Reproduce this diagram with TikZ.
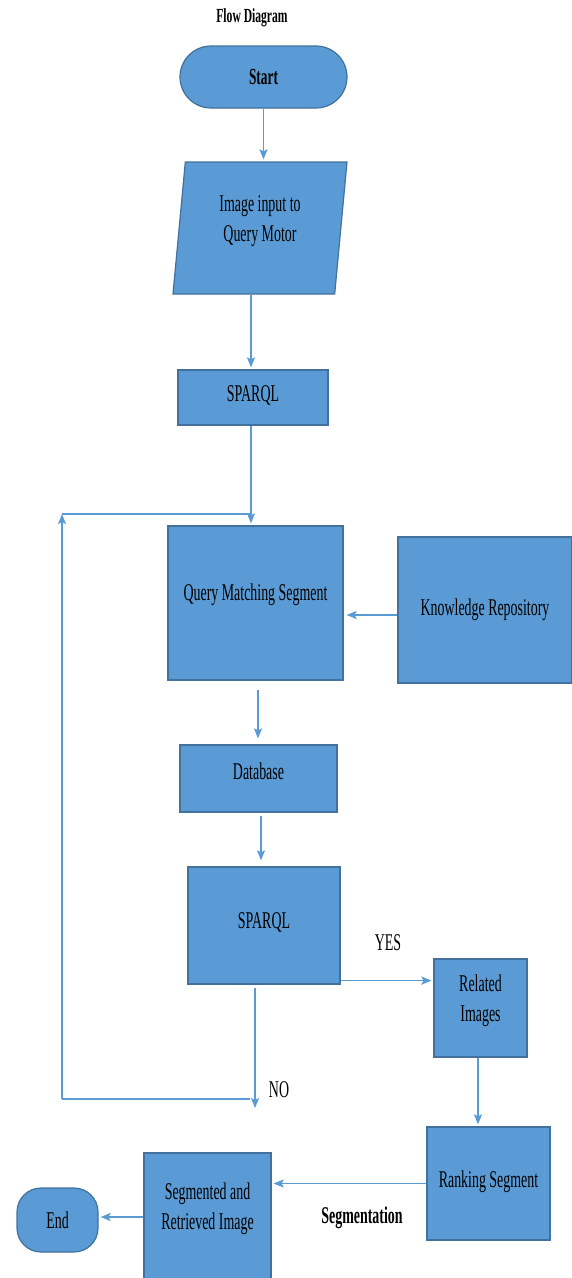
\documentclass[tikz,border=0pt]{standalone}
\usepackage{fontspec}
\setmainfont{Liberation Serif}[FakeStretch=0.58]
\usetikzlibrary{shapes.geometric,arrows.meta}
\definecolor{boxfill}{HTML}{5B9BD5}
\definecolor{boxline}{HTML}{41719C}
\definecolor{arrowc}{HTML}{5B9BD5}
\newcommand\liftt[2]{\raisebox{#1}[\height][\depth]{#2}}
\newcommand\twolines[2]{\begin{tabular}{@{}c@{}}#1\\#2\end{tabular}}
\begin{document}
\begin{tikzpicture}[x=1pt,y=-1pt,
  box/.style={draw=boxline,fill=boxfill,line width=1.2pt,inner sep=0pt,align=center,font=\fontsize{24}{30}\selectfont},
  arr/.style={draw=arrowc,line width=1.7pt,shorten >=2pt,-{Stealth[length=10pt,width=8pt,inset=2pt]}},
  conn/.style={draw=arrowc,line width=1.7pt},
  lbl/.style={font=\fontsize{24}{30}\selectfont,inner sep=0pt},
  blbl/.style={font=\fontsize{24}{30}\selectfont\bfseries,inner sep=0pt},
]
\useasboundingbox (0,0) rectangle (571,1278);

\node[inner sep=0pt,font=\fontsize{20}{22}\selectfont\bfseries] (title) at (252,18) {Flow Diagram};

\node[box,rounded corners=31pt,minimum width=167pt,minimum height=62pt,font=\fontsize{23}{28}\selectfont\bfseries] (start) at (263.5,77) {Start};
\node[box,trapezium,trapezium left angle=78.4,trapezium right angle=101.6,trapezium stretches body,minimum width=174pt,minimum height=132pt] (para) at (260,228) {\liftt{8pt}{\twolines{Image input to}{Query Motor}}};
\node[box,minimum width=150pt,minimum height=55pt] (sp1) at (253,397.5) {\liftt{2pt}{SPARQL}};
\node[box,minimum width=175pt,minimum height=154pt] (qms) at (255.5,603) {\liftt{8pt}{Query Matching Segment}};
\node[box,minimum width=174pt,minimum height=146pt] (kr) at (485,610) {Knowledge Repository};
\node[box,minimum width=157pt,minimum height=67pt] (db) at (258.5,778.5) {\liftt{7pt}{Database}};
\node[box,minimum width=152pt,minimum height=117pt] (sp2) at (264,925.5) {\liftt{3pt}{SPARQL}};
\node[box,minimum width=93pt,minimum height=98pt] (rel) at (480.5,1008) {\liftt{8pt}{\twolines{Related}{Images}}};
\node[box,minimum width=123pt,minimum height=113pt] (rank) at (488.5,1183.5) {\liftt{2pt}{Ranking Segment}};
\node[box,minimum width=127pt,minimum height=128pt] (seg) at (207.5,1217) {\liftt{9pt}{\twolines{Segmented and}{Retrieved Image}}};
\node[box,rounded corners=24pt,minimum width=81pt,minimum height=64pt] (end) at (57.5,1220) {End};

\node[lbl] (yes) at (388,943) {YES};
\node[lbl] (no) at (279,1090) {NO};
\node[blbl] (segl) at (362,1218) {Segmentation};

\draw[arr] (start.south) -- (start.south |- para.north);
\draw[arr] ([xshift=-9pt]para.south) -- ([xshift=-2pt]sp1.north);
\draw[arr] ([xshift=-2pt]sp1.south) -- ([xshift=-4.5pt]qms.north);
\draw[arr,shorten >=3pt] ([yshift=-5pt]kr.west) -- ([yshift=-5pt]kr.west -| qms.east);
\draw[arr,shorten <=9pt,shorten >=6pt] ([xshift=2.5pt]qms.south) -- ([xshift=2.5pt]qms.south |- db.north);
\draw[arr,shorten <=3pt,shorten >=6pt] ([xshift=2.5pt]db.south) -- ([xshift=2.5pt]db.south |- sp2.north);
\draw[arr] ([yshift=4pt]sp2.south east) -- ([yshift=4pt]sp2.south east -| rel.west);
\draw[arr] ([xshift=-2.5pt]rel.south) -- ([xshift=-2.5pt]rel.south |- rank.north);
\draw[arr] (rank.west) -- (rank.west -| seg.east);
\draw[arr] (seg.west) -- (seg.west -| end.east);

\coordinate (noend) at (255,1110);
\coordinate (lb) at (62,1099);
\coordinate (lt) at (62,514);
\draw[arr,shorten <=3pt] ([xshift=-9pt]sp2.south) -- (noend);
\draw[conn] ([xshift=-5pt]lb -| noend) -- (lb);
\draw[arr,shorten >=0pt] (lb) -- (lt);
\draw[conn] (lt) -- ([xshift=-2pt]sp1.south |- lt);
\end{tikzpicture}
\end{document}
